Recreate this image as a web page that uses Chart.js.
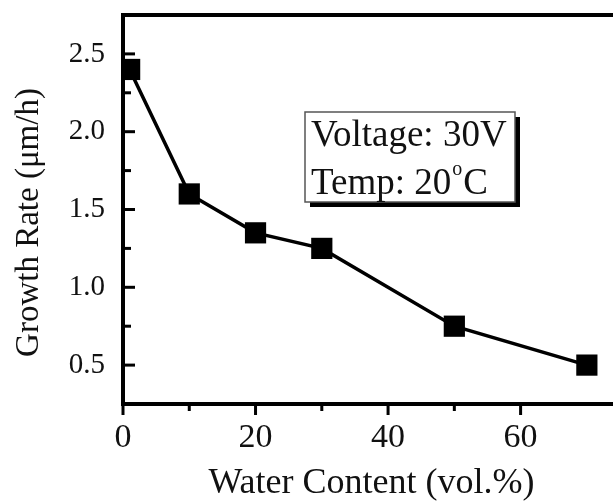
<!DOCTYPE html>
<html>
<head>
<meta charset="utf-8">
<script src="https://cdn.jsdelivr.net/npm/chart.js@4"></script>
<style>
html, body { margin: 0; padding: 0; overflow: hidden; background: #fff; }
#wrap { position: absolute; left: 0; top: 0; width: 660px; height: 502px; }
</style>
</head>
<body>
<div id="wrap"><canvas id="c"></canvas></div>
<script>
const waterContent = [1, 10, 20, 30, 50, 70];
const growthRate = [2.4, 1.6, 1.35, 1.25, 0.75, 0.5];
const xTickLabels = [0, 20, 40, 60];
const yTickLabels = [0.5, 1.0, 1.5, 2.0, 2.5];
const xTitle = 'Water Content (vol.%)';
const yTitle = 'Growth Rate (\u03bcm/h)';
const noteLines = ['Voltage: 30V', 'Temp: 20'];
const noteSup = 'o';
const noteUnit = 'C';

const SERIF = "'Liberation Serif', 'DejaVu Serif', serif";

const framePlugin = {
  id: 'frame',
  afterDraw(chart) {
    const {ctx, chartArea: a, scales: {x, y}} = chart;
    ctx.save();
    ctx.strokeStyle = '#000';
    ctx.lineWidth = 4;
    ctx.strokeRect(a.left, a.top, a.right - a.left, a.bottom - a.top);
    ctx.lineWidth = 3;
    // y ticks (inward)
    y.ticks.forEach(t => {
      const v = t.value;
      if (v <= y.min + 1e-9 || v >= y.max - 1e-9) return;
      const major = yTickLabels.some(l => Math.abs(l - v) < 1e-6);
      const py = y.getPixelForValue(v);
      ctx.beginPath();
      ctx.moveTo(a.left, py);
      ctx.lineTo(a.left + (major ? 12 : 8), py);
      ctx.stroke();
    });
    // x ticks (outward)
    x.ticks.forEach(t => {
      const v = t.value;
      if (Math.abs(v % 10) > 1e-6) return;
      const major = xTickLabels.some(l => Math.abs(l - v) < 1e-6);
      const px = x.getPixelForValue(v);
      ctx.beginPath();
      ctx.moveTo(px, a.bottom);
      ctx.lineTo(px, a.bottom + (major ? 11 : 7));
      ctx.stroke();
    });
    // y title
    ctx.fillStyle = '#111';
    ctx.font = '33px ' + SERIF;
    ctx.textAlign = 'center';
    ctx.textBaseline = 'alphabetic';
    ctx.translate(38, (a.top + a.bottom) / 2 + 13);
    ctx.rotate(-Math.PI / 2);
    ctx.fillText(yTitle, 0, 0);
    ctx.restore();

    // annotation box
    ctx.save();
    const bx = a.left + 182, by = a.top + 97, bw = 210, bh = 90;
    ctx.fillStyle = '#000';
    ctx.fillRect(bx + 5, by + 5, bw, bh);
    ctx.fillStyle = '#fff';
    ctx.fillRect(bx, by, bw, bh);
    ctx.strokeStyle = '#555';
    ctx.lineWidth = 1.5;
    ctx.strokeRect(bx, by, bw, bh);
    ctx.fillStyle = '#111';
    ctx.font = '37px ' + SERIF;
    ctx.textAlign = 'left';
    ctx.textBaseline = 'alphabetic';
    ctx.fillText(noteLines[0], bx + 6, by + 34);
    ctx.fillText(noteLines[1], bx + 6, by + 82);
    let w = ctx.measureText(noteLines[1]).width;
    ctx.font = '20px ' + SERIF;
    ctx.fillText(noteSup, bx + 6 + w + 1, by + 63);
    const ws = ctx.measureText(noteSup).width;
    ctx.font = '37px ' + SERIF;
    ctx.fillText(noteUnit, bx + 6 + w + ws + 2, by + 82);
    ctx.restore();
  }
};

new Chart(document.getElementById('c'), {
  type: 'scatter',
  data: {
    datasets: [{
      data: waterContent.map((v, i) => ({x: v, y: growthRate[i]})),
      showLine: true,
      borderColor: '#000',
      borderWidth: 3.5,
      backgroundColor: '#000',
      pointStyle: 'rect',
      pointRadius: 15,
      pointHoverRadius: 15,
      pointBorderWidth: 0,
      tension: 0
    }]
  },
  options: {
    responsive: true,
    maintainAspectRatio: false,
    animation: false,
    events: [],
    layout: { padding: { top: 12, right: 40, left: 0, bottom: 0 } },
    plugins: { legend: { display: false }, tooltip: { enabled: false } },
    scales: {
      x: {
        type: 'linear',
        min: 0,
        max: 75,
        grid: { display: false, drawTicks: false },
        border: { display: false },
        ticks: {
          stepSize: 10,
          padding: 14,
          color: '#111',
          font: { family: SERIF, size: 34 },
          maxRotation: 0,
          autoSkip: false,
          callback: v => xTickLabels.some(l => Math.abs(l - v) < 1e-6) ? String(v) : ''
        },
        title: {
          display: true,
          text: xTitle,
          color: '#111',
          font: { family: SERIF, size: 36, lineHeight: 1 },
          padding: { top: 0, bottom: 0 }
        },
        afterFit: s => { s.height = 98; s.paddingLeft = 0; s.paddingRight = 0; }
      },
      y: {
        type: 'linear',
        min: 0.25,
        max: 2.75,
        grid: { display: false, drawTicks: false },
        border: { display: false },
        ticks: {
          stepSize: 0.25,
          padding: 18,
          color: '#111',
          font: { family: SERIF, size: 29 },
          autoSkip: false,
          callback: v => yTickLabels.some(l => Math.abs(l - v) < 1e-6) ? v.toFixed(1) : ''
        },
        afterFit: s => { s.width = 123; s.paddingTop = 0; s.paddingBottom = 0; }
      }
    }
  },
  plugins: [framePlugin]
});
</script>
</body>
</html>
